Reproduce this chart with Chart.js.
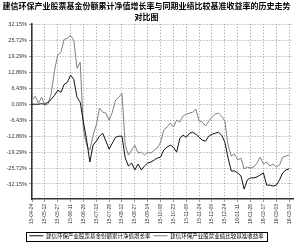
<!DOCTYPE html>
<html><head><meta charset="utf-8">
<script src="https://cdn.jsdelivr.net/npm/chart.js@4/dist/chart.umd.min.js"></script>
<style>html,body{margin:0;padding:0;background:#fff;}canvas{display:block;}</style>
</head><body>
<canvas id="c" width="300" height="242"></canvas>
<script>
const titleLines = ['建信环保产业股票基金份额累计净值增长率与同期业绩比较基准收益率的历史走势', '对比图'];
const seriesNames = ['建信环保产业股票基金份额累计净值增长率', '建信环保产业股票业绩比较基准收益率'];
const dateLabels = ['15-04-24','15-05-12','15-05-27','15-06-11','15-06-26','15-07-13','15-07-28','15-08-12','15-08-27','15-09-14','15-10-08','15-10-23','15-11-09','15-11-24','15-12-09','15-12-24','16-01-11','16-01-26','16-02-17','16-03-03','16-03-18'];
const yTickValues = [32.15, 25.72, 19.29, 12.86, 6.43, 0.00, -6.43, -12.86, -19.29, -25.72, -32.15];
const pointsPerLabel = 4;
const fundValues = [0,0,0,0.2,0,0.8,2.0,3.6,5.6,4.8,8.0,8.8,11.7,10.0,2.8,0.8,-7.2,-14.5,-23.3,-16.5,-14.9,-12.9,-11.7,-14.9,-18.1,-15.7,-13.3,-12.9,-12.9,-21.7,-24.9,-23.7,-26.5,-24.1,-26.5,-24.9,-23.7,-23.3,-22.5,-21.7,-21.3,-18.5,-17.3,-16.5,-17.3,-19.3,-13.7,-12.5,-13.3,-11.7,-11.3,-12.1,-13.3,-14.5,-14.9,-12.9,-12.1,-11.7,-11.3,-12.5,-15.3,-21.7,-26.9,-26.9,-27.7,-28.9,-34.2,-30.5,-29.7,-29.7,-29.3,-28.5,-27.7,-32.6,-32.6,-33.0,-32.6,-30.5,-27.7,-26.5,-26.1];
const benchValues = [1.6,3.2,0.4,2.8,-0.4,0,4.4,13.7,19.7,20.9,26.1,26.5,27.7,25.7,14.5,16.9,-10.4,-16.5,-18.5,-12.5,-8.4,-1.6,-3.2,-3.6,-6.4,-3.2,1.6,2.8,4.4,-16.5,-20.5,-18.5,-16.5,-19.7,-19.3,-20.5,-19.3,-19.7,-18.5,-17.7,-15.3,-10.4,-9.2,-7.6,-9.2,-6.4,-7.2,-4.8,-4.0,-3.6,-3.2,-2.0,-6.8,-7.2,-8.8,-6.8,-5.2,-4.0,-3.6,-4.8,-6.8,-16.5,-20.9,-20.1,-22.5,-21.7,-26.1,-25.3,-25.7,-25.3,-23.7,-21.3,-24.1,-23.3,-24.9,-24.1,-25.3,-24.5,-21.3,-20.9,-20.5];

const toPts = arr => arr.map((v, i) => ({x: i / pointsPerLabel, y: v}));
const cjk = '"Noto Sans CJK SC", sans-serif';
const tickFont = '"Liberation Sans", "DejaVu Sans", sans-serif';

const legendFit = {
  id: 'legendFit',
  beforeInit(chart) {
    const lg = chart.legend;
    if (!lg) return;
    const orig = lg.fit;
    lg.fit = function () { orig.call(this); this.height = 12; };
  }
};

const legendBox = {
  id: 'legendBox',
  afterDraw(chart) {
    const boxes = chart.legend && chart.legend.legendHitBoxes;
    if (!boxes || !boxes.length) return;
    const left = Math.min(...boxes.map(b => b.left)) - 3;
    const right = Math.max(...boxes.map(b => b.left + b.width)) + 3;
    const top = boxes[0].top - 1.5;
    const h = boxes[0].height + 3;
    const ctx = chart.ctx;
    ctx.save();
    ctx.strokeStyle = '#000';
    ctx.lineWidth = 1;
    ctx.strokeRect(Math.round(left) + 0.5, Math.round(top) + 0.5, Math.round(right - left), Math.round(h));
    ctx.restore();
  }
};

new Chart(document.getElementById('c'), {
  type: 'line',
  data: {
    datasets: [
      {label: seriesNames[0], data: toPts(fundValues), borderColor: '#111', backgroundColor: '#111', borderWidth: 1, pointRadius: 0, tension: 0},
      {label: seriesNames[1], data: toPts(benchValues), borderColor: '#808080', backgroundColor: '#808080', borderWidth: 1, pointRadius: 0, tension: 0}
    ]
  },
  options: {
    responsive: false, animation: false, devicePixelRatio: 1,
    layout: {padding: {left: 0, right: 7, top: 0, bottom: 0}},
    plugins: {
      title: {display: true, text: titleLines, color: '#000', font: {family: cjk, size: 8, weight: 'bold', lineHeight: 1.3}, padding: {top: 1, bottom: 2}},
      legend: {display: true, position: 'bottom', labels: {color: '#000', font: {family: cjk, size: 5.5}, usePointStyle: true, pointStyle: 'line', pointStyleWidth: 14, padding: 3, boxHeight: 5}},
      tooltip: {enabled: false}
    },
    scales: {
      x: {
        type: 'linear', min: 0, max: 20.3,
        afterBuildTicks: s => { s.ticks = dateLabels.map((d, i) => ({value: i})); },
        afterFit: s => { s.height = 31; },
        ticks: {autoSkip: false, maxRotation: 90, minRotation: 90, font: {family: tickFont, size: 5}, color: '#333', padding: 2, callback: v => dateLabels[v]},
        grid: {color: '#999', lineWidth: 1, tickLength: 3, tickColor: '#999'},
        border: {display: true, color: '#333', width: 1.5, dash: [1, 2]}
      },
      y: {
        type: 'linear', min: -38.2, max: 32.4,
        afterBuildTicks: s => { s.ticks = yTickValues.map(v => ({value: v})); },
        afterFit: s => { s.width = 32; },
        ticks: {autoSkip: false, font: {family: tickFont, size: 5.5}, color: '#333', padding: 2, callback: v => v.toFixed(2) + '%'},
        grid: {color: '#999', lineWidth: 1, tickLength: 3, tickColor: '#999'},
        border: {display: true, color: '#333', width: 1.5, dash: [1, 2]}
      }
    }
  },
  plugins: [legendFit, legendBox]
});
</script>
</body></html>
